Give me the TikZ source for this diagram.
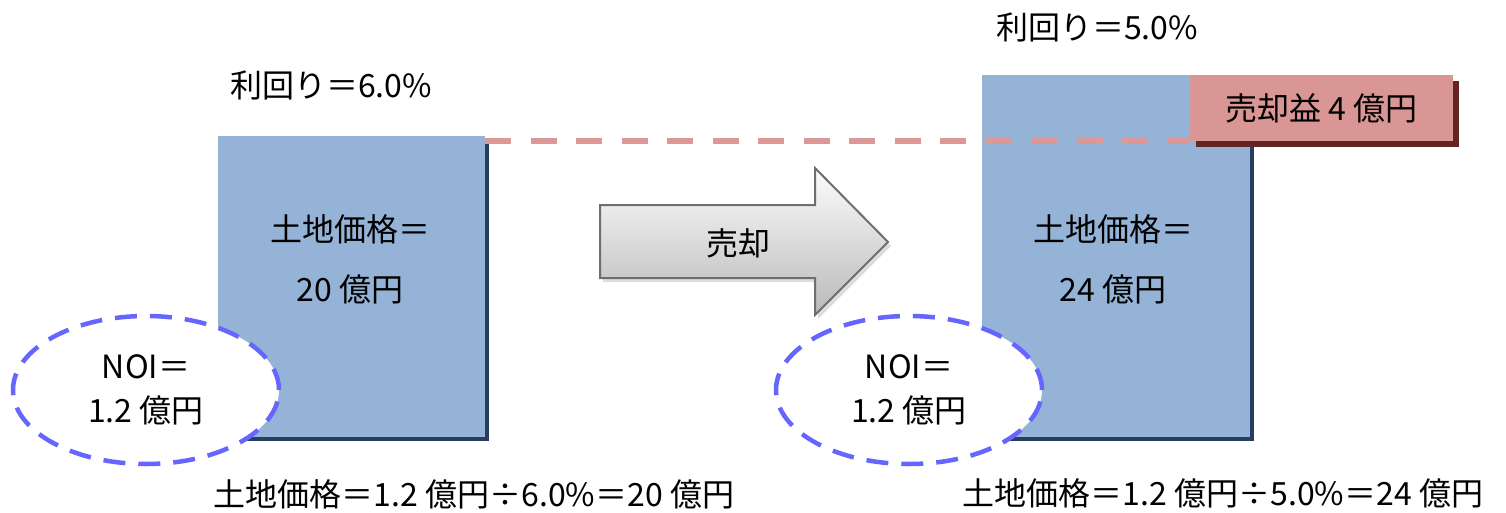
\documentclass[tikz,border=0pt]{standalone}
\usepackage{fontspec}
\setmainfont{Noto Sans CJK JP}
\usetikzlibrary{shapes.geometric,shadows,calc}
\definecolor{boxblue}{RGB}{149,179,215}
\definecolor{boxshadow}{RGB}{40,62,95}
\definecolor{gainpink}{RGB}{217,150,148}
\definecolor{gainshadow}{RGB}{99,37,35}
\definecolor{dashpink}{RGB}{220,152,150}
\definecolor{ellblue}{RGB}{102,102,255}
\definecolor{arrowline}{RGB}{110,110,110}
\pgfdeclarelayer{front}
\pgfsetlayers{main,front}
\tikzset{
  txt/.style={inner sep=0pt, font=\fontsize{32}{38}\selectfont},
  valbox/.style={fill=boxblue, anchor=north west, inner sep=0pt,
    general shadow={fill=boxshadow, shadow xshift=4pt, shadow yshift=-4pt}},
  gainbox/.style={fill=gainpink, anchor=north west, inner sep=0pt,
    font=\fontsize{32}{38}\selectfont,
    general shadow={fill=gainshadow, shadow xshift=6pt, shadow yshift=-6pt}},
  noi/.style={ellipse, draw=ellblue, fill=white, line width=4.5pt,
    dash pattern=on 22pt off 13pt, inner sep=0pt,
    minimum width=266pt, minimum height=148pt, align=center,
    font=\fontsize{32}{44}\selectfont},
  gainline/.style={draw=dashpink, line width=6pt, dash pattern=on 26pt off 19.5pt},
  sellarrow/.style={draw=arrowline, line width=2pt, top color=gray!2, bottom color=gray!55},
}
\begin{document}
\begin{tikzpicture}[x=1pt,y=-1pt]
\useasboundingbox (0,0) rectangle (1506,513);
% left side
\node[txt] (yl) at (331,85) {利回り＝6.0\%};
\node[valbox, minimum width=267pt, minimum height=301pt] (lbox) at (218,136) {};
\node[txt] (lt1) at (350,229) {土地価格＝};
\node[txt] (lt2) at (350,289) {20 億円};
\node[noi] (lnoi) at (146,390) {NOI＝\\1.2 億円};
\node[txt] (lf) at (474,494) {土地価格＝1.2 億円÷6.0\%＝20 億円};
% arrow
\fill[gray!45, opacity=0.6] (603,209) -- (818,209) -- (818,172) -- (891,246) -- (818,319) -- (818,282) -- (603,282) -- cycle;
\path[sellarrow] (600,205) -- (815,205) -- (815,168) -- (888,242) -- (815,315) -- (815,278) -- (600,278) -- cycle;
\node[txt] (sell) at (738,243) {売却};
% right side
\node[txt] (yr) at (1097,27) {利回り＝5.0\%};
\node[valbox, minimum width=268pt, minimum height=362pt] (rbox) at (982,75) {};
\begin{pgfonlayer}{front}
\node[gainbox, minimum width=263pt, minimum height=66pt] (gain) at (1190,75) {売却益 4 億円};
\end{pgfonlayer}
\draw[gainline] (lbox.north east |- gain.south west) -- (gain.south west);
\node[txt] (rt1) at (1113,229) {土地価格＝};
\node[txt] (rt2) at (1113,289) {24 億円};
\node[noi] (rnoi) at (909,390) {NOI＝\\1.2 億円};
\node[txt] (rf) at (1223,493) {土地価格＝1.2 億円÷5.0\%＝24 億円};
\end{tikzpicture}
\end{document}
